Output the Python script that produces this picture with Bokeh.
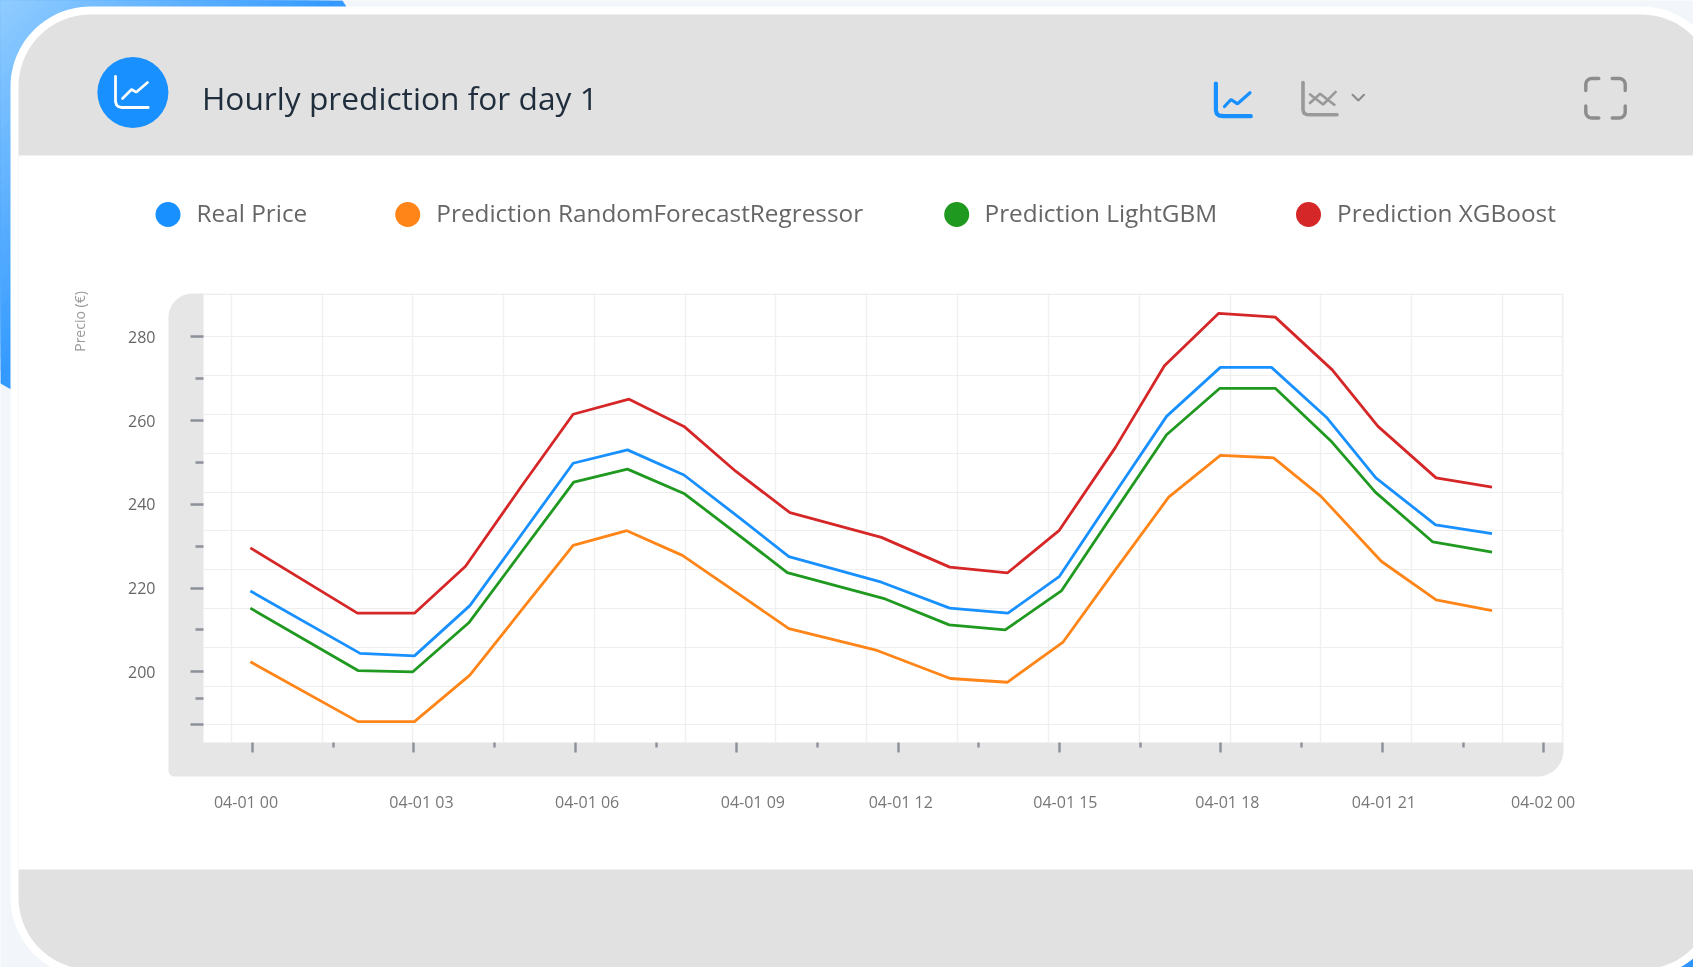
import numpy as np
from bokeh.plotting import figure
from bokeh.embed import file_html
from bokeh.resources import INLINE
from bokeh.models import Range1d, LinearAxis, FixedTicker, Grid
from bokeh.core.properties import value

W, H = 1693, 967
TITLE = "Hourly prediction for day 1"
Y_TITLE = "Precio (€)"
SERIES_NAMES = ["Real Price", "Prediction RandomForecastRegressor", "Prediction LightGBM", "Prediction XGBoost"]
COLORS = ["#1890ff", "#ff8518", "#1f991f", "#d62728"]

real_h = [-0.04, 2.0, 3.01, 4.04, 5.0, 5.96, 6.97, 8.02, 9.0, 9.97, 11.69, 12.96, 14.04, 15.0, 16.0, 16.99, 17.99, 18.94, 19.96, 20.88, 21.99, 23.04]
real_v = [219.3, 204.4, 203.8, 215.8, 232.8, 249.8, 253.0, 247.0, 237.3, 227.5, 221.4, 215.2, 214.0, 222.8, 242.1, 261.0, 272.7, 272.7, 260.8, 246.3, 235.1, 233.0]
rf_h = [-0.04, 1.96, 3.01, 4.04, 5.0, 5.96, 6.96, 7.99, 9.0, 9.97, 11.61, 12.97, 14.03, 15.06, 16.0, 17.03, 17.99, 18.98, 19.86, 20.98, 22.0, 23.04]
rf_v = [202.4, 188.1, 188.1, 199.2, 214.7, 230.2, 233.7, 227.8, 218.9, 210.3, 205.1, 198.4, 197.5, 207.0, 223.7, 241.7, 251.7, 251.1, 241.9, 226.4, 217.2, 214.6]
lgbm_h = [-0.04, 1.96, 2.98, 4.02, 5.0, 5.97, 6.97, 8.03, 9.0, 9.94, 11.76, 12.95, 13.99, 15.04, 16.0, 16.99, 17.98, 19.01, 20.04, 20.87, 21.94, 23.04]
lgbm_v = [215.2, 200.3, 200.0, 211.7, 228.6, 245.3, 248.4, 242.5, 233.0, 223.7, 217.4, 211.2, 210.0, 219.4, 237.8, 256.6, 267.7, 267.7, 255.2, 242.9, 231.0, 228.6]
xgb_h = [-0.04, 1.95, 3.01, 3.96, 5.0, 5.96, 7.0, 8.02, 8.98, 9.99, 11.69, 12.96, 14.03, 14.99, 16.04, 16.95, 17.96, 19.01, 20.07, 20.92, 22.0, 23.04]
xgb_v = [229.6, 214.0, 214.0, 225.2, 244.3, 261.5, 265.1, 258.6, 247.9, 238.0, 232.1, 225.0, 223.6, 233.7, 253.6, 273.1, 285.6, 284.7, 272.1, 258.6, 246.3, 244.1]

x_major = [0, 3, 6, 9, 12, 15, 18, 21, 24]
x_minor = [1.5, 4.5, 7.5, 10.5, 13.5, 16.5, 19.5, 22.5]
x_labels = ["04-01 00", "04-01 03", "04-01 06", "04-01 09", "04-01 12", "04-01 15", "04-01 18", "04-01 21", "04-02 00"]
x_label_pos = [-0.12, 3.14, 6.22, 9.30, 12.05, 15.11, 18.12, 21.03, 23.99]
x_grid = [-0.39, 1.30, 2.98, 4.67, 6.36, 8.05, 9.73, 11.42, 13.10, 14.79, 16.48, 18.17, 19.85, 21.54, 23.23, 24.35]
y_major = [187.3, 200, 220, 240, 260, 280]
y_minor = [193.6, 210, 230, 250, 270]
y_grid = [187.3, 196.6, 205.9, 215.1, 224.4, 233.7, 242.9, 252.2, 261.5, 270.7, 280, 290.2]

FONT = "Open Sans"

# ---------- page decoration layer ----------
bg = figure(width=W, height=H, x_range=Range1d(0, W), y_range=Range1d(H, 0),
            x_axis_type=None, y_axis_type=None, toolbar_location=None,
            output_backend="svg", min_border=0, outline_line_color=None,
            background_fill_color="#f2f6fa", border_fill_color="#f2f6fa")
bg.grid.visible = False
bg.styles = {"position": "fixed", "left": "0px", "top": "0px"}


def rrect(x0, y0, x1, y1, r):
    rtl, rtr, rbr, rbl = r if isinstance(r, (tuple, list)) else (r, r, r, r)
    xs, ys = [], []
    for cx, cy, rad, a0 in [(x0 + rtl, y0 + rtl, rtl, 180), (x1 - rtr, y0 + rtr, rtr, 270),
                            (x1 - rbr, y1 - rbr, rbr, 0), (x0 + rbl, y1 - rbl, rbl, 90)]:
        t = np.radians(np.linspace(a0, a0 + 90, 24))
        xs += list(cx + rad * np.cos(t))
        ys += list(cy + rad * np.sin(t))
    return xs, ys


def mix(c0, c1, t):
    return "#%02x%02x%02x" % tuple(int(round(a + (b - a) * t)) for a, b in zip(c0, c1))


# blue decoration behind the card
light, deep = (146, 205, 255), (52, 154, 255)
bg.patch([0, 342, 352, 30, 0], [0, 0, 16, 400, 383], fill_color=mix(light, deep, 1), line_color=None)
for t in np.linspace(1, 0.04, 30):
    bg.patch([0, 342 * t, 0], [0, 0, 383 * t], fill_color=mix(light, deep, t), line_color=None)
bg.patch([1630, W, W], [H, H, 925], fill_color="#2f95ff", line_color=None)

# card
x, y = rrect(10, 6, 1721, 977, 80)
bg.patch(x, y, fill_color="#ffffff", line_color=None)
x, y = rrect(18, 14, 1713, 969, 72)
bg.patch(x, y, fill_color="#e1e1e1", line_color=None)
bg.quad(left=[18], right=[1713], top=[155], bottom=[869], fill_color="#ffffff", line_color=None)

# header icon
bg.scatter([132.4], [92], size=71, marker="circle", fill_color="#1890ff", line_color=None)
bg.line([115, 115, 116, 118, 121, 147.7], [76, 101, 104.5, 106.2, 107, 107], line_color="#ffffff", line_width=2.8, line_cap="round")
bg.line([122, 131, 135.7, 147], [98, 89, 91.7, 82], line_color="#ffffff", line_width=2.6, line_cap="round")
bg.text([201.5], [96.5], text=[TITLE], text_font=value(FONT), text_font_size="31.7px",
        text_color="#1f2d3d", text_align="left", text_baseline="middle")

# toolbar icons
bg.line([1215.4, 1215.4, 1216.5, 1219, 1223, 1250.3], [83, 110, 113.6, 115.2, 115.7, 115.7],
        line_color="#1890ff", line_width=4.2, line_cap="round")
bg.line([1224, 1230.5, 1237, 1249.5], [106, 99, 103.3, 92.3], line_color="#1890ff", line_width=3.2, line_cap="round")
bg.line([1302.5, 1302.5, 1303.5, 1306, 1309.5, 1336.5], [82, 109.5, 112.6, 114, 114.3, 114.3],
        line_color="#999999", line_width=3.6, line_cap="round")
bg.line([1308.7, 1319.6, 1334.7], [103.3, 93.3, 105], line_color="#999999", line_width=2.6)
bg.line([1308.7, 1322.6, 1335.9], [93.3, 104, 90.7], line_color="#999999", line_width=2.6)
bg.line([1352.1, 1357.8, 1363.5], [94.3, 100, 94.3], line_color="#8c8c8c", line_width=2.2, line_cap="round")
for sx, sy, cx, cy in [(1, 1, 1585.3, 78), (-1, 1, 1624.7, 78), (-1, -1, 1624.7, 117.5), (1, -1, 1585.3, 117.5)]:
    t = np.radians(np.linspace(0, 90, 10))
    ax = list(cx + sx * 6 * (1 - np.cos(t)))
    ay = list(cy + sy * 6 * (1 - np.sin(t)))
    bg.line([cx] + ax + [cx + sx * 13], [cy + sy * 12] + ay + [cy], line_color="#8c8c8c",
            line_width=3.4, line_cap="round")

# legend
legend_c = [167.5, 407.2, 956.2, 1308]
legend_t = [196, 435.8, 984, 1336.6]
for name, col, c, t in zip(SERIES_NAMES, COLORS, legend_c, legend_t):
    bg.scatter([c], [214], size=25, marker="circle", fill_color=col, line_color=None)
    bg.text([t], [212.3], text=[name], text_font=value(FONT), text_font_size="24.35px",
            text_color="#666666", text_align="left", text_baseline="middle")

# chart panel and axis title
x, y = rrect(168, 293, 1563, 776, (24, 2, 26, 6))
bg.patch(x, y, fill_color="#e6e6e6", line_color=None)
bg.text([78.5], [321], text=[Y_TITLE], text_font=value(FONT), text_font_size="14px", angle=np.pi / 2,
        text_color="#999999", text_align="center", text_baseline="middle")

# ---------- chart layer ----------
FL, FR, FT, FB = 203, 1563, 293, 742
PX_H, PX_V = 53.8, 4.1875
x_range = Range1d((FL - 252) / PX_H, (FR - 252) / PX_H)
y_range = Range1d(280 - (FB - 336.3) / PX_V, 280 - (FT - 336.3) / PX_V)
p = figure(width=W, height=H, x_range=x_range, y_range=y_range, x_axis_type=None, y_axis_type=None,
           toolbar_location=None, output_backend="svg",
           min_border_left=FL, min_border_right=W - FR, min_border_top=FT, min_border_bottom=H - FB,
           background_fill_color="#ffffff", border_fill_alpha=0, border_fill_color=None,
           outline_line_color=None)
p.styles = {"position": "fixed", "left": "0px", "top": "0px"}

TICK = "#8b9099"
ya = LinearAxis(ticker=FixedTicker(ticks=y_major, minor_ticks=y_minor),
                major_label_overrides={187.3: ""},
                axis_line_color=None, major_tick_in=0, major_tick_out=13, minor_tick_in=0, minor_tick_out=8,
                major_tick_line_color=TICK, minor_tick_line_color=TICK,
                major_tick_line_width=2.6, minor_tick_line_width=2.6,
                major_label_standoff=35, major_label_text_font=FONT, major_label_text_font_size="16px",
                major_label_text_color="#666666")
p.add_layout(ya, "left")
xa = LinearAxis(ticker=FixedTicker(ticks=x_major, minor_ticks=x_minor),
                major_label_overrides={h: "" for h in x_major},
                axis_line_color=None, major_tick_in=0, major_tick_out=10, minor_tick_in=0, minor_tick_out=5,
                major_tick_line_color=TICK, minor_tick_line_color=TICK,
                major_tick_line_width=2.4, minor_tick_line_width=2.4, major_label_standoff=0,
                major_label_text_font_size="1px")
p.add_layout(xa, "below")
xb = LinearAxis(ticker=FixedTicker(ticks=x_label_pos),
                major_label_overrides=dict(zip(x_label_pos, x_labels)),
                axis_line_color=None, major_tick_line_color=None, minor_tick_line_color=None,
                major_tick_in=0, major_tick_out=0, major_label_standoff=38,
                major_label_text_font=FONT, major_label_text_font_size="16px", major_label_text_color="#777777")
p.add_layout(xb, "below")

p.xgrid.visible = False
p.ygrid.visible = False
p.add_layout(Grid(dimension=0, ticker=FixedTicker(ticks=x_grid), grid_line_color="#f0f0f0", grid_line_width=1.5))
p.add_layout(Grid(dimension=1, ticker=FixedTicker(ticks=y_grid), grid_line_color="#eeeeee", grid_line_width=1.2))

for hs, vs, col in [(real_h, real_v, COLORS[0]), (rf_h, rf_v, COLORS[1]), (lgbm_h, lgbm_v, COLORS[2]), (xgb_h, xgb_v, COLORS[3])]:
    p.line(hs, vs, line_color=col, line_width=2.8)

open("out.html", "w").write(file_html([bg, p], INLINE))
